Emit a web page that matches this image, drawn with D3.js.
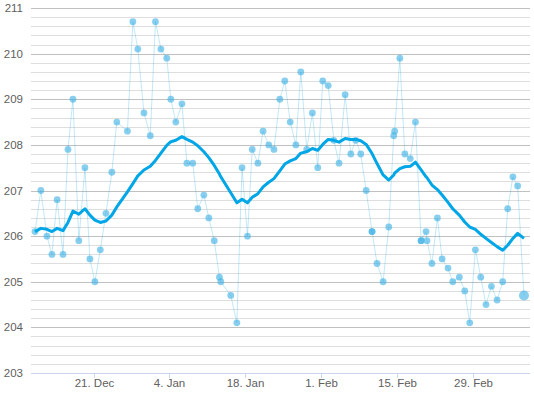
<!DOCTYPE html>
<html>
<head>
<meta charset="utf-8">
<script src="https://cdn.jsdelivr.net/npm/d3@7"></script>
<style>
    body { margin: 0; background: #fff; }
    text { font-family: "Liberation Sans", Arial, sans-serif; font-size: 11.5px; fill: #606060; }
</style>
</head>
<body>
<div id="chart"></div>
<script>
// weigh-ins (UTC), value, and the smoothed trend at each weigh-in
const dates = [
    "2015-12-10T05:00", "2015-12-11T07:00", "2015-12-12T10:00", "2015-12-13T08:00", "2015-12-14T07:00",
    "2015-12-15T09:00", "2015-12-16T07:00", "2015-12-17T05:00", "2015-12-18T07:00", "2015-12-19T10:00",
    "2015-12-20T08:00", "2015-12-21T06:00", "2015-12-22T06:00", "2015-12-23T07:00", "2015-12-24T09:00",
    "2015-12-25T07:00", "2015-12-27T06:00", "2015-12-28T06:00", "2015-12-29T04:00", "2015-12-30T07:00",
    "2015-12-31T11:00", "2016-01-01T10:00", "2016-01-02T10:00", "2016-01-03T12:00", "2016-01-04T06:00",
    "2016-01-05T04:00", "2016-01-06T07:00", "2016-01-07T05:00", "2016-01-08T07:00", "2016-01-09T05:00",
    "2016-01-10T08:00", "2016-01-11T06:00", "2016-01-12T06:00", "2016-01-13T05:00", "2016-01-13T11:00",
    "2016-01-15T07:00", "2016-01-16T10:00", "2016-01-17T09:00", "2016-01-18T09:00", "2016-01-19T06:00",
    "2016-01-20T07:00", "2016-01-21T06:00", "2016-01-22T07:00", "2016-01-23T06:00", "2016-01-24T08:00",
    "2016-01-25T06:00", "2016-01-26T06:00", "2016-01-27T07:00", "2016-01-28T05:00", "2016-01-29T07:00",
    "2016-01-30T08:00", "2016-01-31T08:00", "2016-02-01T06:00", "2016-02-02T06:00", "2016-02-03T07:00",
    "2016-02-04T06:00", "2016-02-05T09:00", "2016-02-06T10:00", "2016-02-07T08:00", "2016-02-08T06:00",
    "2016-02-09T06:00", "2016-02-10T08:00", "2016-02-11T06:00", "2016-02-12T09:00", "2016-02-13T10:00",
    "2016-02-14T08:00", "2016-02-14T12:00", "2016-02-15T11:00", "2016-02-16T09:00", "2016-02-17T09:00",
    "2016-02-18T08:00", "2016-02-19T09:00", "2016-02-20T07:00", "2016-02-20T11:00", "2016-02-21T09:00",
    "2016-02-22T09:00", "2016-02-23T06:00", "2016-02-24T08:00", "2016-02-25T05:00", "2016-02-26T10:00",
    "2016-02-27T10:00", "2016-02-28T08:00", "2016-02-29T09:00", "2016-03-01T09:00", "2016-03-02T08:00",
    "2016-03-03T08:00", "2016-03-04T09:00", "2016-03-05T10:00", "2016-03-06T08:00", "2016-03-07T07:00",
    "2016-03-08T04:00", "2016-03-09T08:00"
];
const weights = [
    206.1, 207.0, 206.0, 205.6, 206.8, 205.6, 207.9, 209.0, 205.9, 207.5,
    205.5, 205.0, 205.7, 206.5, 207.4, 208.5, 208.3, 210.7, 210.1, 208.7,
    208.2, 210.7, 210.1, 209.9, 209.0, 208.5, 208.9, 207.6, 207.6, 206.6,
    206.9, 206.4, 205.9, 205.1, 205.0, 204.7, 204.1, 207.5, 206.0, 207.9,
    207.6, 208.3, 208.0, 207.9, 209.0, 209.4, 208.5, 208.0, 209.6, 207.9,
    208.7, 207.5, 209.4, 209.3, 208.1, 207.6, 209.1, 207.8, 208.1, 207.8,
    207.0, 206.1, 205.4, 205.0, 206.2, 208.2, 208.3, 209.9, 207.8, 207.7,
    208.5, 205.9, 206.1, 205.9, 205.4, 206.4, 205.5, 205.3, 205.0, 205.1,
    204.8, 204.1, 205.7, 205.1, 204.5, 204.9, 204.6, 205.0, 206.6, 207.3,
    207.1, 204.7
];
const average = [
    206.10, 206.17, 206.15, 206.10, 206.17, 206.12, 206.30, 206.55, 206.48, 206.60,
    206.46, 206.35, 206.30, 206.33, 206.46, 206.64, 206.97, 207.15, 207.32, 207.45,
    207.53, 207.66, 207.82, 207.99, 208.07, 208.10, 208.18, 208.12, 208.06, 207.98,
    207.85, 207.72, 207.55, 207.36, 207.30, 206.95, 206.73, 206.81, 206.73, 206.85,
    206.93, 207.08, 207.18, 207.26, 207.43, 207.58, 207.65, 207.70, 207.82, 207.85,
    207.92, 207.88, 208.01, 208.12, 208.10, 208.06, 208.14, 208.12, 208.12, 208.09,
    208.01, 207.81, 207.59, 207.34, 207.23, 207.34, 207.38, 207.48, 207.52, 207.53,
    207.62, 207.45, 207.30, 207.28, 207.12, 207.02, 206.90, 206.74, 206.60, 206.46,
    206.31, 206.20, 206.15, 206.04, 205.95, 205.86, 205.77, 205.69, 205.80, 205.95,
    206.06, 205.95
];
// second weigh-ins at the same time (drawn on top, show darker)
const repeatDates = ["2016-02-10T08:00", "2016-02-19T09:00"];
const repeatWeights = [206.1, 205.9];

const yTicks = [203, 204, 205, 206, 207, 208, 209, 210, 211];
const xTicks = ["2015-12-21", "2016-01-04", "2016-01-18", "2016-02-01", "2016-02-15", "2016-02-29"];
const xStart = "2015-12-09T11:26";
const xEnd = "2016-03-10T10:41";

function chart() {
    const width = 534, height = 393;
    const left = 31, right = 530, top = 8, bottom = 373;

    const parseTime = d3.utcParse("%Y-%m-%dT%H:%M");
    const parseDay = d3.utcParse("%Y-%m-%d");
    const fmt = d3.utcFormat("%-d. %b");

    const x = d3.scaleUtc()
        .domain([parseTime(xStart), parseTime(xEnd)])
        .range([left, right]);
    const y = d3.scaleLinear()
        .domain([203, 211])
        .range([bottom, top]);

    const points = dates.map((d, i) => ({t: parseTime(d), v: weights[i], a: average[i]}));
    const repeats = repeatDates.map((d, i) => ({t: parseTime(d), v: repeatWeights[i]}));

    const svg = d3.select("#chart")
        .append("svg")
        .attr("width", width)
        .attr("height", height);

    // minor grid, every 0.2
    const minor = d3.range(203, 211.001, 0.2).filter(v => Math.abs(v - Math.round(v)) > 0.01);
    svg.append("g")
        .selectAll("line")
        .data(minor)
        .join("line")
        .attr("x1", left).attr("x2", right)
        .attr("y1", d => Math.round(y(d)) + 0.5)
        .attr("y2", d => Math.round(y(d)) + 0.5)
        .attr("stroke", "#dedede");

    svg.append("g")
        .selectAll("line")
        .data(yTicks)
        .join("line")
        .attr("x1", left).attr("x2", right)
        .attr("y1", d => Math.round(y(d)) + 0.5)
        .attr("y2", d => Math.round(y(d)) + 0.5)
        .attr("stroke", "#c0c0c0");

    svg.append("g")
        .selectAll("text")
        .data(yTicks)
        .join("text")
        .attr("x", left - 8)
        .attr("y", d => y(d) + 4)
        .attr("text-anchor", "end")
        .text(d => d);

    // x axis
    const xAxis = svg.append("g");
    xAxis.append("line")
        .attr("x1", left).attr("x2", right)
        .attr("y1", bottom + 0.5).attr("y2", bottom + 0.5)
        .attr("stroke", "#ccd6eb");
    const ticks = xAxis.selectAll("g")
        .data(xTicks.map(parseDay))
        .join("g")
        .attr("transform", d => `translate(${Math.round(x(d)) + 0.5},0)`);
    ticks.append("line")
        .attr("y1", bottom).attr("y2", bottom + 5)
        .attr("stroke", "#ccd6eb");
    ticks.append("text")
        .attr("y", bottom + 14)
        .attr("text-anchor", "middle")
        .text(d => fmt(d));

    // raw weigh-ins
    svg.append("path")
        .datum(points)
        .attr("fill", "none")
        .attr("stroke", "#0ba3e5")
        .attr("stroke-opacity", 0.25)
        .attr("stroke-width", 1)
        .attr("d", d3.line().x(d => x(d.t)).y(d => y(d.v)));

    svg.append("g")
        .selectAll("circle")
        .data(points.concat(repeats))
        .join("circle")
        .attr("cx", d => x(d.t))
        .attr("cy", d => y(d.v))
        .attr("r", (d, i) => i === points.length - 1 ? 5 : 3.4)
        .attr("fill", "#3fb1e5")
        .attr("fill-opacity", 0.62);

    // trend
    svg.append("path")
        .datum(points)
        .attr("fill", "none")
        .attr("stroke", "#00a6e6")
        .attr("stroke-width", 3)
        .attr("stroke-linejoin", "round")
        .attr("d", d3.line().x(d => x(d.t)).y(d => y(d.a)));
}

chart();
</script>
</body>
</html>
